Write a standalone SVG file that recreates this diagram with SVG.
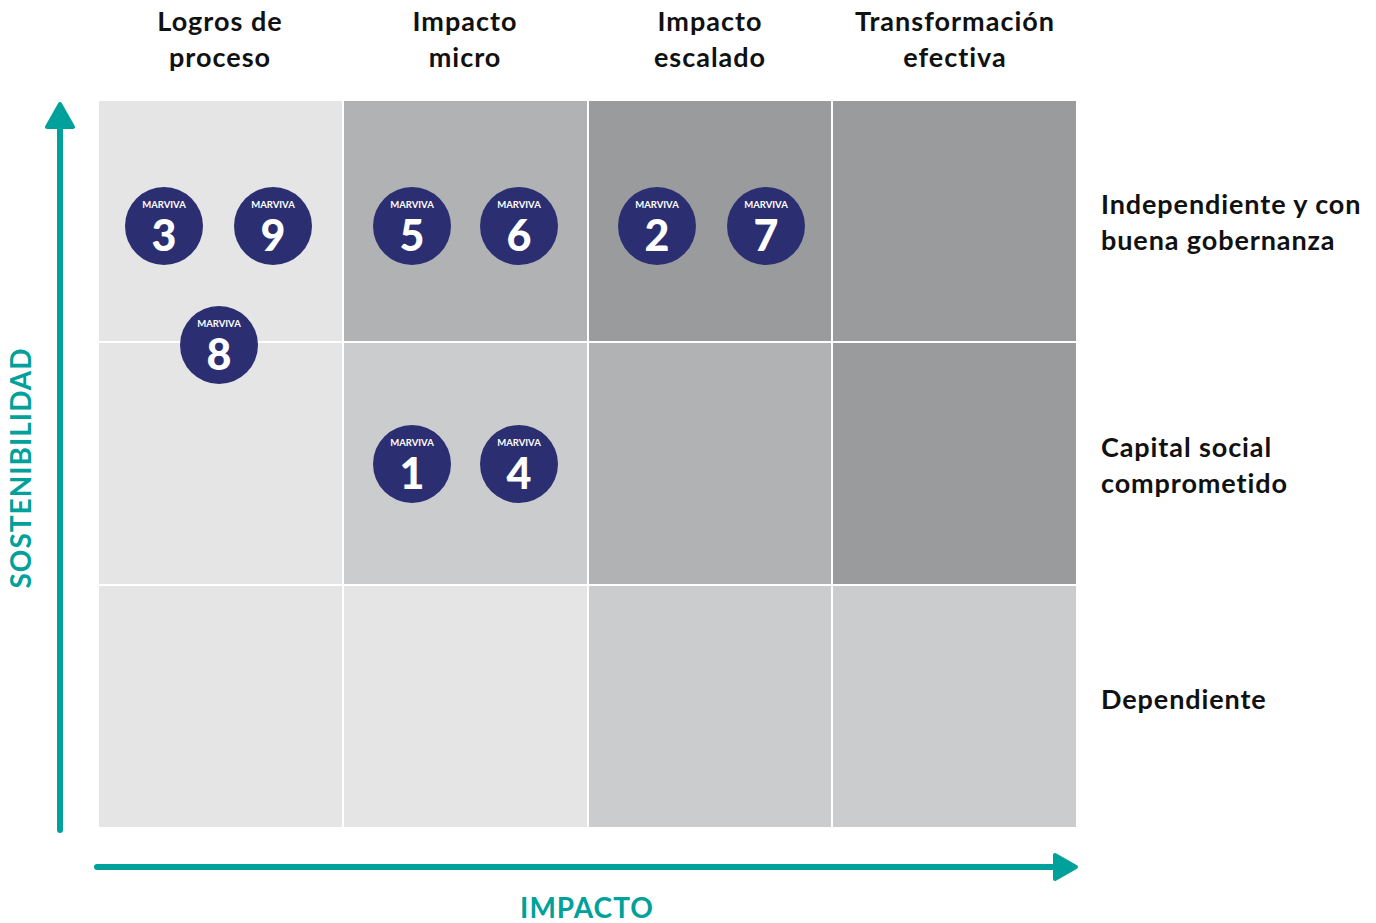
<svg xmlns="http://www.w3.org/2000/svg" width="1376" height="923" viewBox="0 0 1376 923">
<style>
.hdr{font-family:Lato,"Liberation Sans",sans-serif;font-weight:bold;font-size:27px;letter-spacing:1px;fill:#111;text-anchor:middle}
.lbl{font-family:Lato,"Liberation Sans",sans-serif;font-weight:bold;font-size:27px;letter-spacing:0.9px;fill:#111}
.axis{font-family:Lato,"Liberation Sans",sans-serif;font-weight:bold;font-size:28px;letter-spacing:1px;fill:#00a19a;text-anchor:middle}
.c{fill:#2b2f72}
.m{font-family:Lato,"Liberation Sans",sans-serif;font-weight:bold;font-size:9.5px;fill:#fff;text-anchor:middle}
.n{font-family:Lato,"Liberation Sans",sans-serif;font-weight:900;font-size:43px;fill:#fff;text-anchor:middle}
.l1{fill:#e5e5e5}.l2{fill:#cbcccd}.l3{fill:#b1b2b4}.l4{fill:#9a9b9d}
</style>
<rect width="1376" height="923" fill="#fff"/>
<g id="grid">
<rect class="l1" x="99" y="101" width="243" height="240"/>
<rect class="l3" x="344" y="101" width="243" height="240"/>
<rect class="l4" x="589" y="101" width="242" height="240"/>
<rect class="l4" x="833" y="101" width="243" height="240"/>
<rect class="l1" x="99" y="343" width="243" height="241"/>
<rect class="l2" x="344" y="343" width="243" height="241"/>
<rect class="l3" x="589" y="343" width="242" height="241"/>
<rect class="l4" x="833" y="343" width="243" height="241"/>
<rect class="l1" x="99" y="586" width="243" height="241"/>
<rect class="l1" x="344" y="586" width="243" height="241"/>
<rect class="l2" x="589" y="586" width="242" height="241"/>
<rect class="l2" x="833" y="586" width="243" height="241"/>
</g>
<g id="headers">
<text class="hdr" x="220" y="31">Logros de</text><text class="hdr" x="220" y="67">proceso</text>
<text class="hdr" x="465" y="31">Impacto</text><text class="hdr" x="465" y="67">micro</text>
<text class="hdr" x="710" y="31">Impacto</text><text class="hdr" x="710" y="67">escalado</text>
<text class="hdr" x="955" y="31">Transformación</text><text class="hdr" x="955" y="67">efectiva</text>
</g>
<g id="rowlabels">
<text class="lbl" x="1101" y="214">Independiente y con</text><text class="lbl" x="1101" y="250">buena gobernanza</text>
<text class="lbl" x="1101" y="457">Capital social</text><text class="lbl" x="1101" y="493">comprometido</text>
<text class="lbl" x="1101" y="709">Dependiente</text>
</g>
<g id="connectors">
<line x1="60" y1="830" x2="60" y2="122" stroke="#00a19a" stroke-width="6" stroke-linecap="round"/>
<path d="M60 104 L73 127 L47 127 Z" fill="#00a19a" stroke="#00a19a" stroke-width="4" stroke-linejoin="round"/>
<line x1="97" y1="867" x2="1058" y2="867" stroke="#00a19a" stroke-width="6" stroke-linecap="round"/>
<path d="M1076 867 L1055 855 L1055 879 Z" fill="#00a19a" stroke="#00a19a" stroke-width="4" stroke-linejoin="round"/>
</g>
<text class="axis" transform="translate(31 468) rotate(-90)">SOSTENIBILIDAD</text>
<text class="axis" x="587" y="918">IMPACTO</text>
<g id="n3"><circle class="c" cx="164" cy="226" r="39"/><text class="m" x="164" y="208">MARVIVA</text><text class="n" x="164" y="251">3</text></g>
<g id="n9"><circle class="c" cx="273" cy="226" r="39"/><text class="m" x="273" y="208">MARVIVA</text><text class="n" x="273" y="251">9</text></g>
<g id="n8"><circle class="c" cx="219" cy="345" r="39"/><text class="m" x="219" y="327">MARVIVA</text><text class="n" x="219" y="370">8</text></g>
<g id="n5"><circle class="c" cx="412" cy="226" r="39"/><text class="m" x="412" y="208">MARVIVA</text><text class="n" x="412" y="251">5</text></g>
<g id="n6"><circle class="c" cx="519" cy="226" r="39"/><text class="m" x="519" y="208">MARVIVA</text><text class="n" x="519" y="251">6</text></g>
<g id="n2"><circle class="c" cx="657" cy="226" r="39"/><text class="m" x="657" y="208">MARVIVA</text><text class="n" x="657" y="251">2</text></g>
<g id="n7"><circle class="c" cx="766" cy="226" r="39"/><text class="m" x="766" y="208">MARVIVA</text><text class="n" x="766" y="251">7</text></g>
<g id="n1"><circle class="c" cx="412" cy="464" r="39"/><text class="m" x="412" y="446">MARVIVA</text><text class="n" x="412" y="489">1</text></g>
<g id="n4"><circle class="c" cx="519" cy="464" r="39"/><text class="m" x="519" y="446">MARVIVA</text><text class="n" x="519" y="489">4</text></g>
</svg>
